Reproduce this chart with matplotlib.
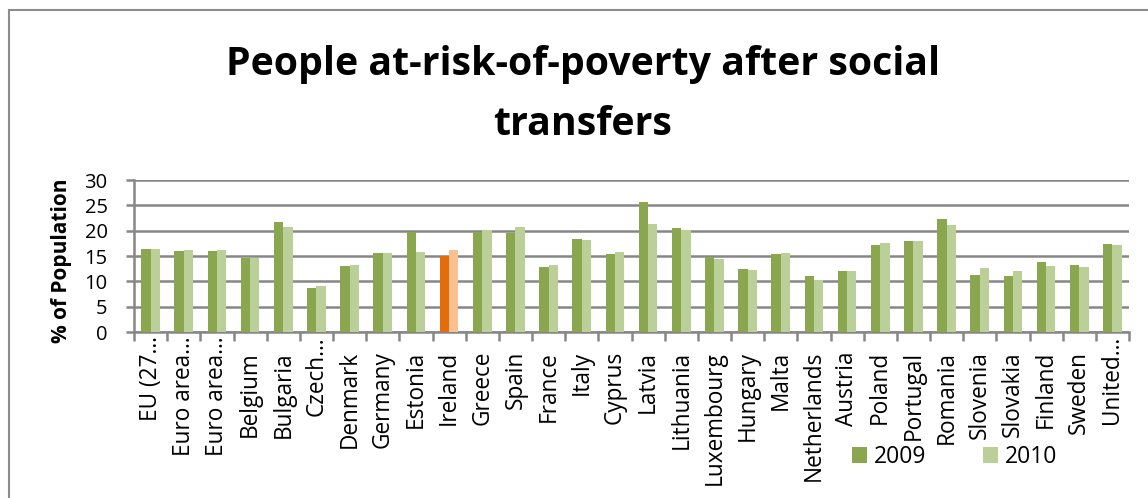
import matplotlib
matplotlib.use("Agg")
import matplotlib.pyplot as plt
from matplotlib.patches import Patch, Rectangle
from matplotlib.ticker import FixedLocator, MultipleLocator
import matplotlib.transforms as mtransforms
import numpy as np

countries = ["EU (27\u2026", "Euro area\u2026", "Euro area\u2026", "Belgium", "Bulgaria",
             "Czech\u2026", "Denmark", "Germany", "Estonia", "Ireland",
             "Greece", "Spain", "France", "Italy", "Cyprus",
             "Latvia", "Lithuania", "Luxembourg", "Hungary", "Malta",
             "Netherlands", "Austria", "Poland", "Portugal", "Romania",
             "Slovenia", "Slovakia", "Finland", "Sweden", "United\u2026"]
values_2009 = [16.3, 15.9, 15.9, 14.6, 21.8, 8.6, 13.1, 15.5, 19.7, 15.0,
               19.7, 19.5, 12.9, 18.4, 15.3, 25.7, 20.6, 14.9, 12.4, 15.3,
               11.1, 12.0, 17.1, 17.9, 22.4, 11.3, 11.0, 13.8, 13.3, 17.3]
values_2010 = [16.4, 16.1, 16.1, 14.6, 20.7, 9.0, 13.3, 15.6, 15.8, 16.1,
               20.1, 20.7, 13.3, 18.2, 15.8, 21.3, 20.2, 14.5, 12.3, 15.5,
               10.3, 12.1, 17.6, 17.9, 21.1, 12.7, 12.0, 13.1, 12.9, 17.1]
highlight = "Ireland"
series_labels = ["2009", "2010"]
title_lines = ["People at-risk-of-poverty after social", "transfers"]
ylabel = "% of Population"

C09 = "#8AA64E"
C10 = "#BBCF99"
H09 = "#E46C0A"
H10 = "#FAC090"
GRID = "#878787"
FONT = "Open Sans"

W, H = 1148, 498
fig = plt.figure(figsize=(W / 100, H / 100), dpi=100)
fig.patch.set_facecolor("white")
ax = fig.add_axes([134 / W, 1 - 332 / H, (1129 - 134) / W, (332 - 180) / H])

x = np.arange(len(countries))
bw = 0.28
c1 = [H09 if c == highlight else C09 for c in countries]
c2 = [H10 if c == highlight else C10 for c in countries]
ax.bar(x - bw / 2, values_2009, bw, color=c1, zorder=3)
ax.bar(x + bw / 2, values_2010, bw, color=c2, zorder=3)

ax.set_xlim(-0.5, len(countries) - 0.5)
ax.set_ylim(0, 30)
ax.yaxis.set_major_locator(MultipleLocator(5))
ax.grid(axis="y", color=GRID, linewidth=1.8, zorder=0)
ax.set_axisbelow(True)
for s in ["top", "right"]:
    ax.spines[s].set_visible(False)
for s in ["left", "bottom"]:
    ax.spines[s].set_color(GRID)
    ax.spines[s].set_linewidth(1.8)

ax.tick_params(axis="y", direction="out", length=6, width=1.8, color=GRID,
               labelsize=14.5, pad=13)
for lab in ax.get_yticklabels():
    lab.set_fontfamily(FONT)

ax.set_xticks(x)
ax.set_xticklabels([])
ax.tick_params(axis="x", which="major", length=0)
ax.xaxis.set_minor_locator(FixedLocator(np.arange(len(countries) + 1) - 0.5))
ax.tick_params(axis="x", which="minor", direction="out", length=6.5, width=1.8, color=GRID)

blend = mtransforms.blended_transform_factory(ax.transData, ax.transAxes)
for xi, name in zip(x, countries):
    off = 4 if name.endswith("\u2026") else 19
    tr = mtransforms.offset_copy(blend, fig=fig, x=0, y=-off * 72 / 100, units="points")
    ax.text(xi, 0, name, rotation=90, ha="center", va="top", transform=tr,
            fontsize=16.3, fontfamily=FONT)

fig.text(61 / W, 1 - 261 / H, ylabel, rotation=90, ha="center", va="center",
         fontsize=15, fontweight="bold", fontfamily=FONT)

fig.text(583 / W, 1 - 75 / H, title_lines[0], ha="center", va="baseline",
         fontsize=28.3, fontweight="bold", fontfamily=FONT)
fig.text(583 / W, 1 - 135 / H, title_lines[1], ha="center", va="baseline",
         fontsize=28.3, fontweight="bold", fontfamily=FONT)

handles = [Patch(facecolor=C09), Patch(facecolor=C10)]
leg = fig.legend(handles, series_labels, loc="upper left",
                 bbox_to_anchor=(852 / W, 1 - 445 / H), ncol=2, frameon=False,
                 borderpad=0, borderaxespad=0, handlelength=0.65, handleheight=0.7,
                 handletextpad=0.3, columnspacing=2.5,
                 prop={"family": FONT, "size": 16.5})

fig.add_artist(Rectangle((9 / W, -0.5), 2, 0.5 + 1 - 10 / H, transform=fig.transFigure,
                         fill=False, edgecolor="#8C8C8C", linewidth=1.5))

fig.savefig("out.png", dpi=100)
